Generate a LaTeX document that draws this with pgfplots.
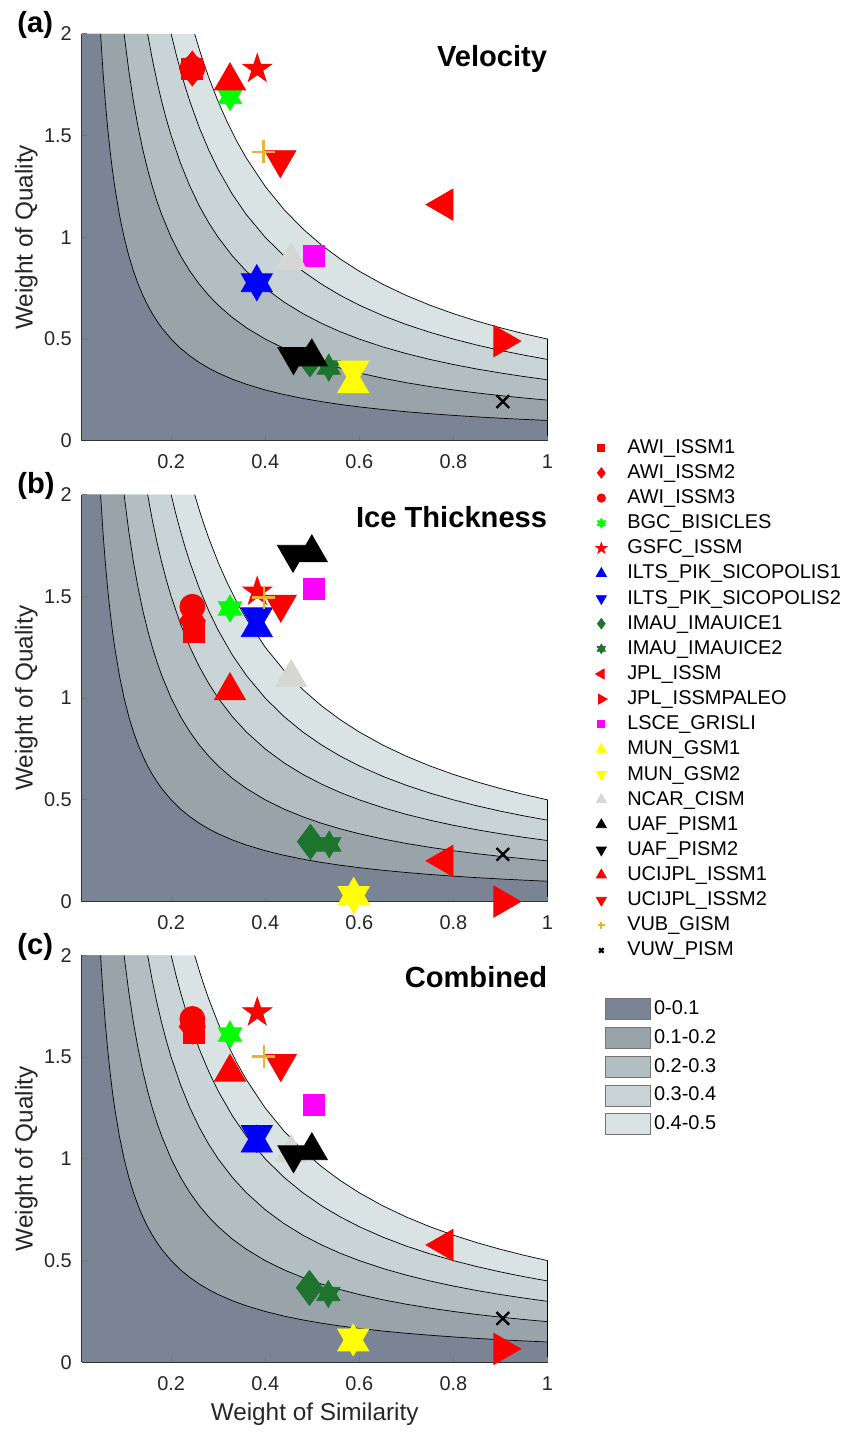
\documentclass[border=0pt]{standalone}
\usepackage{fontspec}
\setmainfont{Liberation Sans}
\usepackage{pgfplots}
\pgfplotsset{compat=1.18}
\usetikzlibrary{plotmarks}

\definecolor{fa}{RGB}{123,132,149}
\definecolor{fb}{RGB}{152,163,170}
\definecolor{fc}{RGB}{178,190,193}
\definecolor{fd}{RGB}{200,212,214}
\definecolor{fe}{RGB}{218,227,228}
\definecolor{mred}{RGB}{255,0,0}
\definecolor{mgreen}{RGB}{0,255,0}
\definecolor{mblue}{RGB}{0,0,255}
\definecolor{mdkgreen}{RGB}{30,115,45}
\definecolor{mmag}{RGB}{255,0,255}
\definecolor{myel}{RGB}{255,255,0}
\definecolor{mgray}{RGB}{214,214,210}
\definecolor{mgold}{RGB}{230,180,50}

\pgfdeclareplotmark{hexagram}{%
 \pgfpathmoveto{\pgfpointpolar{90}{\pgfplotmarksize}}%
 \pgfpathlineto{\pgfpointpolar{120}{0.57735\pgfplotmarksize}}%
 \pgfpathlineto{\pgfpointpolar{150}{\pgfplotmarksize}}%
 \pgfpathlineto{\pgfpointpolar{180}{0.57735\pgfplotmarksize}}%
 \pgfpathlineto{\pgfpointpolar{210}{\pgfplotmarksize}}%
 \pgfpathlineto{\pgfpointpolar{240}{0.57735\pgfplotmarksize}}%
 \pgfpathlineto{\pgfpointpolar{270}{\pgfplotmarksize}}%
 \pgfpathlineto{\pgfpointpolar{300}{0.57735\pgfplotmarksize}}%
 \pgfpathlineto{\pgfpointpolar{330}{\pgfplotmarksize}}%
 \pgfpathlineto{\pgfpointpolar{0}{0.57735\pgfplotmarksize}}%
 \pgfpathlineto{\pgfpointpolar{30}{\pgfplotmarksize}}%
 \pgfpathlineto{\pgfpointpolar{60}{0.57735\pgfplotmarksize}}%
 \pgfpathclose\pgfusepathqfillstroke}
\pgfdeclareplotmark{fstar}{%
 \pgfpathmoveto{\pgfpointpolar{90}{\pgfplotmarksize}}%
 \pgfpathlineto{\pgfpointpolar{126}{0.382\pgfplotmarksize}}%
 \pgfpathlineto{\pgfpointpolar{162}{\pgfplotmarksize}}%
 \pgfpathlineto{\pgfpointpolar{198}{0.382\pgfplotmarksize}}%
 \pgfpathlineto{\pgfpointpolar{234}{\pgfplotmarksize}}%
 \pgfpathlineto{\pgfpointpolar{270}{0.382\pgfplotmarksize}}%
 \pgfpathlineto{\pgfpointpolar{306}{\pgfplotmarksize}}%
 \pgfpathlineto{\pgfpointpolar{342}{0.382\pgfplotmarksize}}%
 \pgfpathlineto{\pgfpointpolar{18}{\pgfplotmarksize}}%
 \pgfpathlineto{\pgfpointpolar{54}{0.382\pgfplotmarksize}}%
 \pgfpathclose\pgfusepathqfillstroke}

\tikzset{
 sAWIa/.style={mark=square*, mark size=5.25pt, color=mred},
 sAWIb/.style={mark=diamond*, mark size=8.75pt, color=mred},
 sAWIc/.style={mark=*, mark size=6.25pt, color=mred},
 sBGC/.style={mark=hexagram, mark size=6.75pt, color=mgreen},
 sGSFC/.style={mark=fstar, mark size=7.6pt, color=mred},
 sILTSa/.style={mark=triangle*, mark size=9pt, color=mblue},
 sILTSb/.style={mark=triangle*, mark size=9pt, color=mblue, mark options={rotate=180}},
 sIMAUa/.style={mark=diamond*, mark size=8.75pt, color=mdkgreen},
 sIMAUb/.style={mark=hexagram, mark size=6.75pt, color=mdkgreen},
 sJPLa/.style={mark=triangle*, mark size=9pt, color=mred, mark options={rotate=90}},
 sJPLb/.style={mark=triangle*, mark size=9pt, color=mred, mark options={rotate=-90}},
 sLSCE/.style={mark=square*, mark size=5.25pt, color=mmag},
 sMUNa/.style={mark=triangle*, mark size=9pt, color=myel},
 sMUNb/.style={mark=triangle*, mark size=9pt, color=myel, mark options={rotate=180}},
 sNCAR/.style={mark=triangle*, mark size=9pt, color=mgray},
 sUAFa/.style={mark=triangle*, mark size=9pt, color=black},
 sUAFb/.style={mark=triangle*, mark size=9pt, color=black, mark options={rotate=180}},
 sUCIa/.style={mark=triangle*, mark size=9pt, color=mred},
 sUCIb/.style={mark=triangle*, mark size=9pt, color=mred, mark options={rotate=180}},
 sVUB/.style={mark=+, mark size=5.75pt, color=mgold, mark options={line width=1.3pt}},
 sVUW/.style={mark=x, mark size=4.5pt, color=black, mark options={line width=1.2pt}},
}

\pgfplotsset{
 panel/.style={
  width=233.5pt, height=204pt, scale only axis,
  xmin=0.01, xmax=1, ymin=0, ymax=2,
  xtick={0.2,0.4,0.6,0.8,1}, ytick={0,0.5,1,1.5,2},
  axis x line*=bottom, axis y line*=left,
  tick align=inside, major tick length=2.5pt,
  tick style={black!55, line width=0.5pt},
  axis line style={black!80, line width=0.5pt},
  clip=false, set layers,
  /pgf/number format/assume math mode=true,
  tick label style={font=\fontsize{10}{12}\selectfont, black!85},
  xticklabel style={yshift=-3.5pt},
  yticklabel style={xshift=-1.5pt},
  ylabel={Weight of Quality},
  ylabel style={at={(axis description cs:-0.119,0.5)}, anchor=center, font=\fontsize{12.2}{14}\selectfont, black!85},
 },
 mk/.style={only marks, forget plot},
}

\newcommand\contourbg{%
\addplot[fill=fe, draw=none, forget plot, on layer=axis background] coordinates {(0.01,0) (0.01,2) (0.25,2) (0.26,1.9231) (0.27,1.8519) (0.28,1.7857) (0.3,1.6667) (0.32,1.5625) (0.34,1.4706) (0.36,1.3889) (0.4,1.25) (0.44,1.1364) (0.48,1.0417) (0.52,0.9615) (0.56,0.8929) (0.6,0.8333) (0.65,0.7692) (0.7,0.7143) (0.75,0.6667) (0.8,0.625) (0.85,0.5882) (0.9,0.5556) (0.95,0.5263) (1,0.5) (1,0)};
\addplot[fill=fd, draw=none, forget plot, on layer=axis background] coordinates {(0.01,0) (0.01,2) (0.2,2) (0.21,1.9048) (0.22,1.8182) (0.23,1.7391) (0.24,1.6667) (0.26,1.5385) (0.28,1.4286) (0.3,1.3333) (0.33,1.2121) (0.36,1.1111) (0.4,1) (0.44,0.9091) (0.48,0.8333) (0.52,0.7692) (0.56,0.7143) (0.6,0.6667) (0.65,0.6154) (0.7,0.5714) (0.75,0.5333) (0.8,0.5) (0.85,0.4706) (0.9,0.4444) (0.95,0.4211) (1,0.4) (1,0)};
\addplot[fill=fc, draw=none, forget plot, on layer=axis background] coordinates {(0.01,0) (0.01,2) (0.15,2) (0.16,1.875) (0.17,1.7647) (0.18,1.6667) (0.19,1.5789) (0.2,1.5) (0.22,1.3636) (0.24,1.25) (0.26,1.1538) (0.28,1.0714) (0.3,1) (0.33,0.9091) (0.36,0.8333) (0.4,0.75) (0.44,0.6818) (0.48,0.625) (0.52,0.5769) (0.56,0.5357) (0.6,0.5) (0.65,0.4615) (0.7,0.4286) (0.75,0.4) (0.8,0.375) (0.85,0.3529) (0.9,0.3333) (0.95,0.3158) (1,0.3) (1,0)};
\addplot[fill=fb, draw=none, forget plot, on layer=axis background] coordinates {(0.01,0) (0.01,2) (0.1,2) (0.11,1.8182) (0.12,1.6667) (0.13,1.5385) (0.14,1.4286) (0.15,1.3333) (0.16,1.25) (0.17,1.1765) (0.18,1.1111) (0.2,1) (0.22,0.9091) (0.24,0.8333) (0.26,0.7692) (0.28,0.7143) (0.3,0.6667) (0.33,0.6061) (0.36,0.5556) (0.4,0.5) (0.44,0.4545) (0.48,0.4167) (0.52,0.3846) (0.56,0.3571) (0.6,0.3333) (0.65,0.3077) (0.7,0.2857) (0.75,0.2667) (0.8,0.25) (0.85,0.2353) (0.9,0.2222) (0.95,0.2105) (1,0.2) (1,0)};
\addplot[fill=fa, draw=none, forget plot, on layer=axis background] coordinates {(0.01,0) (0.01,2) (0.05,2) (0.055,1.8182) (0.06,1.6667) (0.065,1.5385) (0.07,1.4286) (0.075,1.3333) (0.08,1.25) (0.09,1.1111) (0.1,1) (0.11,0.9091) (0.12,0.8333) (0.13,0.7692) (0.14,0.7143) (0.15,0.6667) (0.16,0.625) (0.17,0.5882) (0.18,0.5556) (0.2,0.5) (0.22,0.4545) (0.24,0.4167) (0.26,0.3846) (0.28,0.3571) (0.3,0.3333) (0.33,0.3030) (0.36,0.2778) (0.4,0.25) (0.44,0.2273) (0.48,0.2083) (0.52,0.1923) (0.56,0.1786) (0.6,0.1667) (0.65,0.1538) (0.7,0.1429) (0.75,0.1333) (0.8,0.125) (0.85,0.1176) (0.9,0.1111) (0.95,0.1053) (1,0.1) (1,0)};
\addplot[black, line width=0.35pt, forget plot, on layer=axis background] coordinates {(0.25,2) (0.26,1.9231) (0.27,1.8519) (0.28,1.7857) (0.3,1.6667) (0.32,1.5625) (0.34,1.4706) (0.36,1.3889) (0.4,1.25) (0.44,1.1364) (0.48,1.0417) (0.52,0.9615) (0.56,0.8929) (0.6,0.8333) (0.65,0.7692) (0.7,0.7143) (0.75,0.6667) (0.8,0.625) (0.85,0.5882) (0.9,0.5556) (0.95,0.5263) (1,0.5) (1,0)};
\addplot[black, line width=0.35pt, forget plot, on layer=axis background] coordinates {(0.2,2) (0.21,1.9048) (0.22,1.8182) (0.23,1.7391) (0.24,1.6667) (0.26,1.5385) (0.28,1.4286) (0.3,1.3333) (0.33,1.2121) (0.36,1.1111) (0.4,1) (0.44,0.9091) (0.48,0.8333) (0.52,0.7692) (0.56,0.7143) (0.6,0.6667) (0.65,0.6154) (0.7,0.5714) (0.75,0.5333) (0.8,0.5) (0.85,0.4706) (0.9,0.4444) (0.95,0.4211) (1,0.4)};
\addplot[black, line width=0.35pt, forget plot, on layer=axis background] coordinates {(0.15,2) (0.16,1.875) (0.17,1.7647) (0.18,1.6667) (0.19,1.5789) (0.2,1.5) (0.22,1.3636) (0.24,1.25) (0.26,1.1538) (0.28,1.0714) (0.3,1) (0.33,0.9091) (0.36,0.8333) (0.4,0.75) (0.44,0.6818) (0.48,0.625) (0.52,0.5769) (0.56,0.5357) (0.6,0.5) (0.65,0.4615) (0.7,0.4286) (0.75,0.4) (0.8,0.375) (0.85,0.3529) (0.9,0.3333) (0.95,0.3158) (1,0.3)};
\addplot[black, line width=0.35pt, forget plot, on layer=axis background] coordinates {(0.1,2) (0.11,1.8182) (0.12,1.6667) (0.13,1.5385) (0.14,1.4286) (0.15,1.3333) (0.16,1.25) (0.17,1.1765) (0.18,1.1111) (0.2,1) (0.22,0.9091) (0.24,0.8333) (0.26,0.7692) (0.28,0.7143) (0.3,0.6667) (0.33,0.6061) (0.36,0.5556) (0.4,0.5) (0.44,0.4545) (0.48,0.4167) (0.52,0.3846) (0.56,0.3571) (0.6,0.3333) (0.65,0.3077) (0.7,0.2857) (0.75,0.2667) (0.8,0.25) (0.85,0.2353) (0.9,0.2222) (0.95,0.2105) (1,0.2)};
\addplot[black, line width=0.35pt, forget plot, on layer=axis background] coordinates {(0.05,2) (0.055,1.8182) (0.06,1.6667) (0.065,1.5385) (0.07,1.4286) (0.075,1.3333) (0.08,1.25) (0.09,1.1111) (0.1,1) (0.11,0.9091) (0.12,0.8333) (0.13,0.7692) (0.14,0.7143) (0.15,0.6667) (0.16,0.625) (0.17,0.5882) (0.18,0.5556) (0.2,0.5) (0.22,0.4545) (0.24,0.4167) (0.26,0.3846) (0.28,0.3571) (0.3,0.3333) (0.33,0.3030) (0.36,0.2778) (0.4,0.25) (0.44,0.2273) (0.48,0.2083) (0.52,0.1923) (0.56,0.1786) (0.6,0.1667) (0.65,0.1538) (0.7,0.1429) (0.75,0.1333) (0.8,0.125) (0.85,0.1176) (0.9,0.1111) (0.95,0.1053) (1,0.1)};
}

\newcommand\paneltext[2]{%
 \node[anchor=base west, inner sep=0pt, font=\bfseries\fontsize{14.6}{16}\selectfont] at (rel axis cs:-0.139,1.003) {#1};
 \node[anchor=base east, inner sep=0pt, font=\bfseries\fontsize{14.6}{16}\selectfont] at (rel axis cs:1,0.92) {#2};
}

\begin{document}
\begin{tikzpicture}
\path (0pt,0pt) rectangle (424.5pt,-716pt);

% ---------------- (a) Velocity ----------------
\begin{axis}[panel, at={(41pt,-17pt)}, anchor=north west]
\contourbg
\addplot[mk, sAWIa] coordinates {(0.245,1.83)};
\addplot[mk, sAWIb] coordinates {(0.245,1.83)};
\addplot[mk, sAWIc] coordinates {(0.245,1.83)};
\addplot[mk, sBGC] coordinates {(0.325,1.69)};
\addplot[mk, sGSFC] coordinates {(0.383,1.828)};
\addplot[mk, sILTSa] coordinates {(0.382,0.777)};
\addplot[mk, sILTSb] coordinates {(0.382,0.777)};
\addplot[mk, sIMAUa] coordinates {(0.495,0.40)};
\addplot[mk, sIMAUb] coordinates {(0.535,0.36)};
\addplot[mk, sJPLa] coordinates {(0.78,1.161)};
\addplot[mk, sJPLb] coordinates {(0.905,0.49)};
\addplot[mk, sLSCE] coordinates {(0.503,0.911)};
\addplot[mk, sMUNa] coordinates {(0.587,0.28)};
\addplot[mk, sMUNb] coordinates {(0.587,0.348)};
\addplot[mk, sNCAR] coordinates {(0.455,0.886)};
\addplot[mk, sUAFa] coordinates {(0.499,0.412)};
\addplot[mk, sUAFb] coordinates {(0.46,0.414)};
\addplot[mk, sUCIa] coordinates {(0.325,1.769)};
\addplot[mk, sUCIb] coordinates {(0.432,1.382)};
\addplot[mk, sVUB] coordinates {(0.396,1.42)};
\addplot[mk, sVUW] coordinates {(0.905,0.193)};
\paneltext{(a)}{Velocity}
\end{axis}

% ---------------- (b) Ice Thickness ----------------
\begin{axis}[panel, at={(41pt,-248pt)}, anchor=north west,
  legend image code/.code={\path[draw=none,fill=none] (0pt,0pt) (21pt,0pt);\draw[#1, only marks] plot coordinates {(9pt,0pt)};},
  legend cell align=left,
  legend style={at={(1.077,1.1434)}, anchor=north west, draw=none, fill=none,
    inner sep=0pt, outer sep=0pt, font=\fontsize{10}{12}\selectfont, row sep=1.1pt,
    nodes={inner sep=1pt, text height=7.5pt, text depth=2pt}}]
\contourbg
\addplot[mk, sAWIa] coordinates {(0.248,1.327)};
\addplot[mk, sAWIb] coordinates {(0.245,1.38)};
\addplot[mk, sAWIc] coordinates {(0.245,1.449)};
\addplot[mk, sBGC] coordinates {(0.325,1.441)};
\addplot[mk, sGSFC] coordinates {(0.383,1.523)};
\addplot[mk, sILTSa] coordinates {(0.382,1.346)};
\addplot[mk, sILTSb] coordinates {(0.382,1.40)};
\addplot[mk, sIMAUa] coordinates {(0.496,0.294)};
\addplot[mk, sIMAUb] coordinates {(0.536,0.281)};
\addplot[mk, sJPLa] coordinates {(0.78,0.2)};
\addplot[mk, sJPLb] coordinates {(0.905,0.0)};
\addplot[mk, sLSCE] coordinates {(0.503,1.536)};
\addplot[mk, sMUNa] coordinates {(0.588,0.03)};
\addplot[mk, sMUNb] coordinates {(0.588,0.03)};
\addplot[mk, sNCAR] coordinates {(0.455,1.101)};
\addplot[mk, sUAFa] coordinates {(0.499,1.714)};
\addplot[mk, sUAFb] coordinates {(0.459,1.707)};
\addplot[mk, sUCIa] coordinates {(0.325,1.036)};
\addplot[mk, sUCIb] coordinates {(0.433,1.462)};
\addplot[mk, sVUB] coordinates {(0.397,1.494)};
\addplot[mk, sVUW] coordinates {(0.905,0.232)};
\addlegendimage{only marks, sAWIa, mark size=1.75pt}\addlegendentry{AWI\_ISSM1}
\addlegendimage{only marks, sAWIb, mark size=2.6pt}\addlegendentry{AWI\_ISSM2}
\addlegendimage{only marks, sAWIc, mark size=2.1pt}\addlegendentry{AWI\_ISSM3}
\addlegendimage{only marks, sBGC, mark size=2.4pt}\addlegendentry{BGC\_BISICLES}
\addlegendimage{only marks, sGSFC, mark size=2.9pt}\addlegendentry{GSFC\_ISSM}
\addlegendimage{only marks, sILTSa, mark size=2.9pt}\addlegendentry{ILTS\_PIK\_SICOPOLIS1}
\addlegendimage{only marks, sILTSb, mark size=2.9pt}\addlegendentry{ILTS\_PIK\_SICOPOLIS2}
\addlegendimage{only marks, sIMAUa, mark size=2.6pt}\addlegendentry{IMAU\_IMAUICE1}
\addlegendimage{only marks, sIMAUb, mark size=2.4pt}\addlegendentry{IMAU\_IMAUICE2}
\addlegendimage{only marks, sJPLa, mark size=2.9pt}\addlegendentry{JPL\_ISSM}
\addlegendimage{only marks, sJPLb, mark size=2.9pt}\addlegendentry{JPL\_ISSMPALEO}
\addlegendimage{only marks, sLSCE, mark size=1.75pt}\addlegendentry{LSCE\_GRISLI}
\addlegendimage{only marks, sMUNa, mark size=2.9pt}\addlegendentry{MUN\_GSM1}
\addlegendimage{only marks, sMUNb, mark size=2.9pt}\addlegendentry{MUN\_GSM2}
\addlegendimage{only marks, sNCAR, mark size=2.9pt}\addlegendentry{NCAR\_CISM}
\addlegendimage{only marks, sUAFa, mark size=2.9pt}\addlegendentry{UAF\_PISM1}
\addlegendimage{only marks, sUAFb, mark size=2.9pt}\addlegendentry{UAF\_PISM2}
\addlegendimage{only marks, sUCIa, mark size=2.9pt}\addlegendentry{UCIJPL\_ISSM1}
\addlegendimage{only marks, sUCIb, mark size=2.9pt}\addlegendentry{UCIJPL\_ISSM2}
\addlegendimage{only marks, sVUB, mark size=1.9pt, mark options={line width=1.1pt}}\addlegendentry{VUB\_GISM}
\addlegendimage{only marks, sVUW, mark size=1.6pt, mark options={line width=1.1pt}}\addlegendentry{VUW\_PISM}
\paneltext{(b)}{Ice Thickness}
\end{axis}

% ---------------- (c) Combined ----------------
\begin{axis}[panel, at={(41pt,-479pt)}, anchor=north west,
  xlabel={Weight of Similarity},
  xlabel style={at={(axis description cs:0.5,-0.127)}, anchor=center, font=\fontsize{12.2}{14}\selectfont, black!85},
  legend cell align=left,
  legend style={at={(1.1242,0.9007)}, anchor=north west, draw=none, fill=none,
    inner sep=0pt, outer sep=0pt, font=\fontsize{10}{12}\selectfont, row sep=0.9pt,
    nodes={inner sep=1.5pt, text height=8pt, text depth=2.5pt}}]
\contourbg
\addplot[mk, sAWIa] coordinates {(0.248,1.617)};
\addplot[mk, sAWIb] coordinates {(0.245,1.65)};
\addplot[mk, sAWIc] coordinates {(0.245,1.688)};
\addplot[mk, sBGC] coordinates {(0.325,1.611)};
\addplot[mk, sGSFC] coordinates {(0.383,1.72)};
\addplot[mk, sILTSa] coordinates {(0.382,1.078)};
\addplot[mk, sILTSb] coordinates {(0.382,1.12)};
\addplot[mk, sIMAUa] coordinates {(0.494,0.366)};
\addplot[mk, sIMAUb] coordinates {(0.534,0.336)};
\addplot[mk, sJPLa] coordinates {(0.78,0.577)};
\addplot[mk, sJPLb] coordinates {(0.905,0.066)};
\addplot[mk, sLSCE] coordinates {(0.503,1.266)};
\addplot[mk, sMUNa] coordinates {(0.587,0.10)};
\addplot[mk, sMUNb] coordinates {(0.587,0.12)};
\addplot[mk, sNCAR] coordinates {(0.455,1.03)};
\addplot[mk, sUAFa] coordinates {(0.499,1.04)};
\addplot[mk, sUAFb] coordinates {(0.46,1.02)};
\addplot[mk, sUCIa] coordinates {(0.325,1.426)};
\addplot[mk, sUCIb] coordinates {(0.433,1.469)};
\addplot[mk, sVUB] coordinates {(0.397,1.503)};
\addplot[mk, sVUW] coordinates {(0.905,0.216)};
\addlegendimage{legend image code/.code={\draw[fill=fa, draw=black!55] (0pt,-5.25pt) rectangle (22.5pt,5.25pt);}}\addlegendentry{0-0.1}
\addlegendimage{legend image code/.code={\draw[fill=fb, draw=black!55] (0pt,-5.25pt) rectangle (22.5pt,5.25pt);}}\addlegendentry{0.1-0.2}
\addlegendimage{legend image code/.code={\draw[fill=fc, draw=black!55] (0pt,-5.25pt) rectangle (22.5pt,5.25pt);}}\addlegendentry{0.2-0.3}
\addlegendimage{legend image code/.code={\draw[fill=fd, draw=black!55] (0pt,-5.25pt) rectangle (22.5pt,5.25pt);}}\addlegendentry{0.3-0.4}
\addlegendimage{legend image code/.code={\draw[fill=fe, draw=black!55] (0pt,-5.25pt) rectangle (22.5pt,5.25pt);}}\addlegendentry{0.4-0.5}
\paneltext{(c)}{Combined}
\end{axis}
\end{tikzpicture}
\end{document}
